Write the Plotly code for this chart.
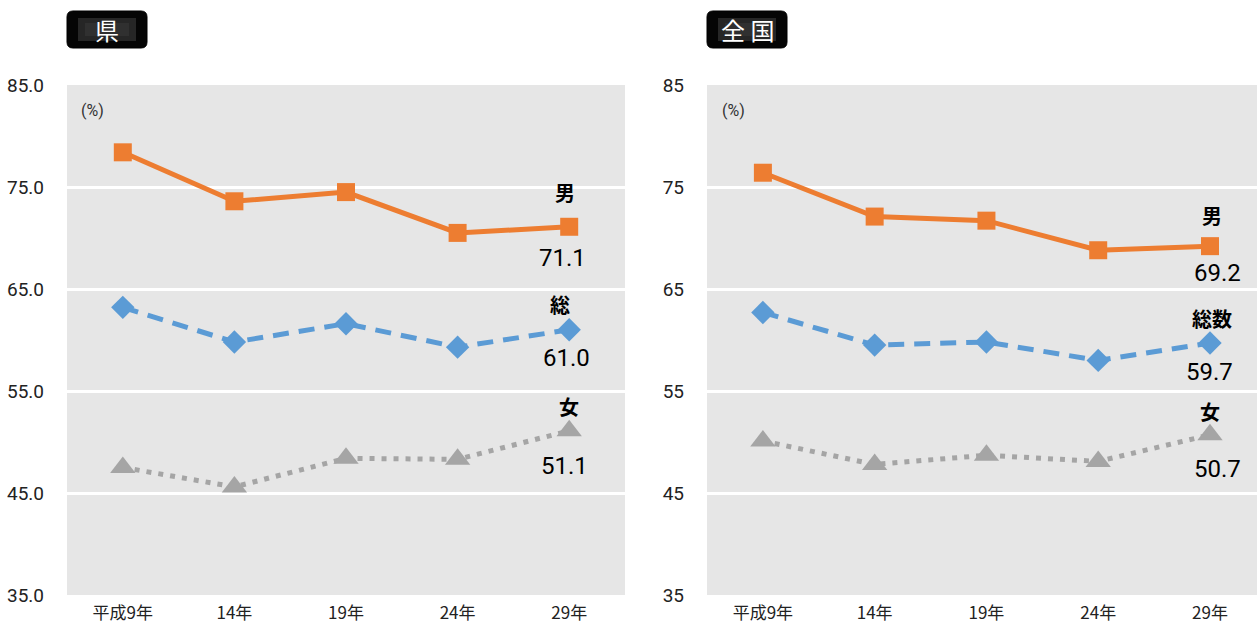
import plotly.graph_objects as go

categories = ["平成9年", "14年", "19年", "24年", "29年"]

pref_male = [78.4, 73.6, 74.5, 70.5, 71.1]
pref_total = [63.2, 59.8, 61.6, 59.3, 61.0]
pref_female = [47.5, 45.6, 48.4, 48.3, 51.1]

nat_male = [76.4, 72.1, 71.7, 68.8, 69.2]
nat_total = [62.7, 59.5, 59.8, 58.0, 59.7]
nat_female = [50.1, 47.8, 48.7, 48.1, 50.7]

left_ticks = ["35.0", "45.0", "55.0", "65.0", "75.0", "85.0"]
right_ticks = ["35", "45", "55", "65", "75", "85"]
tick_vals = [35, 45, 55, 65, 75, 85]

ORANGE = "#ED7D31"
BLUE = "#5B9BD5"
GRAY = "#A5A5A5"
NUMFONT = "Roboto, Noto Sans CJK JP, sans-serif"
CJK = "Noto Sans CJK JP"

W, H = 1257, 627
fig = go.Figure()

def px_x(p):
    return p / W

def px_y(p):
    return 1 - p / H

xs = list(range(len(categories)))

def add_series(xa, ya, male, total, female):
    fig.add_trace(go.Scatter(x=xs, y=male, mode="lines+markers", xaxis=xa, yaxis=ya,
                             line=dict(color=ORANGE, width=5),
                             marker=dict(symbol="square", size=18, color=ORANGE),
                             showlegend=False, hoverinfo="skip"))
    fig.add_trace(go.Scatter(x=xs, y=total, mode="lines+markers", xaxis=xa, yaxis=ya,
                             line=dict(color=BLUE, width=5, dash="16px,10px"),
                             marker=dict(symbol="diamond", size=18, color=BLUE),
                             showlegend=False, hoverinfo="skip"))
    fig.add_trace(go.Scatter(x=xs, y=female, mode="lines+markers", xaxis=xa, yaxis=ya,
                             line=dict(color=GRAY, width=5, dash="5px,7px"),
                             marker=dict(symbol="triangle-up", size=22, color=GRAY),
                             showlegend=False, hoverinfo="skip"))

add_series("x", "y", pref_male, pref_total, pref_female)
add_series("x2", "y2", nat_male, nat_total, nat_female)

ydom = [px_y(595), px_y(85)]
xaxis_common = dict(showgrid=False, zeroline=False, showline=False, ticks="", ticklabelstandoff=6,
                    tickfont=dict(family=CJK, size=17, color="#222"))
yaxis_common = dict(range=[35, 85], tickvals=tick_vals, showgrid=True, gridcolor="white",
                    gridwidth=2.5, zeroline=False, showline=False, ticks="", ticklabelstandoff=22,
                    tickfont=dict(family=NUMFONT, size=19, color="#222"))
fig.update_layout(
    width=W, height=H, margin=dict(l=0, r=0, t=0, b=0, autoexpand=False),
    paper_bgcolor="white", plot_bgcolor="#E6E6E6",
    font=dict(family=NUMFONT),
    xaxis=dict(domain=[px_x(67), px_x(625)], range=[-0.5, 4.5], tickvals=xs, ticktext=categories,
               **xaxis_common),
    xaxis2=dict(domain=[px_x(707), 1.0], range=[-0.5, (1257 - 763) / 111.75], tickvals=xs,
                ticktext=categories, anchor="y2", **xaxis_common),
    yaxis=dict(domain=ydom, ticktext=left_ticks, **yaxis_common),
    yaxis2=dict(domain=ydom, ticktext=right_ticks, anchor="x2", **yaxis_common),
)

def rounded(x0, y0, x1, y1, r):
    X = lambda v: px_x(v)
    Y = lambda v: px_y(v)
    return (f"M {X(x0 + r)} {Y(y0)} L {X(x1 - r)} {Y(y0)} Q {X(x1)} {Y(y0)} {X(x1)} {Y(y0 + r)} "
            f"L {X(x1)} {Y(y1 - r)} Q {X(x1)} {Y(y1)} {X(x1 - r)} {Y(y1)} "
            f"L {X(x0 + r)} {Y(y1)} Q {X(x0)} {Y(y1)} {X(x0)} {Y(y1 - r)} "
            f"L {X(x0)} {Y(y0 + r)} Q {X(x0)} {Y(y0)} {X(x0 + r)} {Y(y0)} Z")

# title boxes
for x0, x1, label in [(67, 147, "県"), (707, 787, "全 国")]:
    fig.add_shape(type="path", xref="paper", yref="paper", path=rounded(x0, 11, x1, 48, 6),
                  fillcolor="#050505", line=dict(color="#000000", width=1), layer="below")
    fig.add_shape(type="rect", xref="paper", yref="paper",
                  x0=px_x(x0 + 11), x1=px_x(x1 - 11), y0=px_y(41), y1=px_y(18),
                  fillcolor="#262626", line=dict(width=0), layer="below")
    fig.add_shape(type="rect", xref="paper", yref="paper",
                  x0=px_x(x0 + 18), x1=px_x(x1 - 18), y0=px_y(36), y1=px_y(23),
                  fillcolor="#303030", line=dict(width=0), layer="below")
    fig.add_annotation(x=px_x((x0 + x1) / 2), y=px_y(29.5), xref="paper", yref="paper",
                       xanchor="center", yanchor="middle",
                       text=label, showarrow=False,
                       font=dict(family=CJK, size=24, color="white"))

# (%) labels
for xp in [92, 733]:
    fig.add_annotation(x=px_x(xp), y=px_y(110), xref="paper", yref="paper", text="(%)",
                       xanchor="center", yanchor="middle",
                       showarrow=False, font=dict(family=NUMFONT, size=16, color="#333"))

def label(xa, ya, yv, text, xshift, yshift, bold):
    fig.add_annotation(x=4, y=yv, xref=xa, yref=ya, text=f"<b>{text}</b>" if bold else text,
                       showarrow=False, xshift=xshift, yshift=yshift,
                       xanchor="center", yanchor="middle",
                       font=dict(family=CJK if bold else NUMFONT, size=20 if bold else 24,
                                 color="black"))

label("x", "y", pref_male[-1], "男", -4, 34, True)
label("x", "y", pref_male[-1], f"{pref_male[-1]:.1f}", -7, -31, False)
label("x", "y", pref_total[-1], "総", -9, 25, True)
label("x", "y", pref_total[-1], f"{pref_total[-1]:.1f}", -3, -28, False)
label("x", "y", pref_female[-1], "女", 0, 24, True)
label("x", "y", pref_female[-1], f"{pref_female[-1]:.1f}", -5, -35, False)

label("x2", "y2", nat_male[-1], "男", 2, 31, True)
label("x2", "y2", nat_male[-1], f"{nat_male[-1]:.1f}", 8, -27, False)
label("x2", "y2", nat_total[-1], "総数", 2, 25, True)
label("x2", "y2", nat_total[-1], f"{nat_total[-1]:.1f}", 0, -29, False)
label("x2", "y2", nat_female[-1], "女", 0, 23, True)
label("x2", "y2", nat_female[-1], f"{nat_female[-1]:.1f}", 8, -34, False)

fig.write_html(
    "out.html",
    config={"displayModeBar": False},
    post_script="document.body.style.margin='0';document.body.style.overflow='hidden';"
                "document.documentElement.style.overflow='hidden';",
)
